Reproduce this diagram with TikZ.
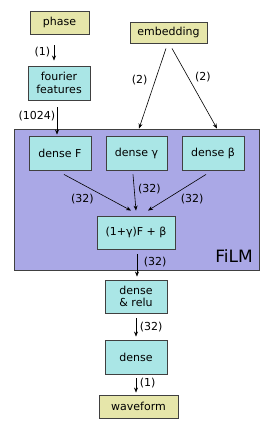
\documentclass[tikz,border=0pt]{standalone}
\usepackage{fontspec}
\setmainfont{DejaVu Sans}
\usetikzlibrary{arrows.meta,positioning}
\definecolor{sandyellow}{RGB}{230,230,170}
\definecolor{palecyan}{RGB}{170,230,230}
\definecolor{filmpurple}{RGB}{170,168,230}

\begin{document}
\begin{tikzpicture}[x=1pt,y=-1pt,
    font=\fontsize{11}{12.5}\selectfont,
    iobox/.style={draw=black!75, fill=sandyellow, line width=0.9pt, minimum height=23pt, inner sep=2pt},
    layer/.style={draw=black!75, fill=palecyan, line width=0.9pt, minimum width=62pt, minimum height=34pt, align=center, inner sep=2pt},
    arr/.style={-{Stealth[length=5pt,width=4pt]}, line width=0.6pt},
    dim/.style={inner sep=1.5pt}]
    \useasboundingbox (0,0) rectangle (275,430);

    % FiLM block
    \node[draw=black!75, fill=filmpurple, line width=0.9pt, minimum width=245pt, minimum height=141pt] (film) at (136.5,199.5) {};
    \node[anchor=base east, inner sep=0pt, font=\fontsize{17}{20}\selectfont] (filmlabel) at (253,262) {FiLM};

    % inputs
    \node[iobox, minimum width=59pt] (phase) at (59.5,22.5) {phase};
    \node[iobox, minimum width=77pt, minimum height=21pt] (embed) at (168.5,32.5) {embedding};
    \node[layer] (fourier) at (59,83) {fourier\\features};

    % dense layers
    \node[layer] (denseF) at (60,153) {dense F};
    \node[layer, minimum width=61pt] (denseG) at (136.5,153) {dense γ};
    \node[layer] (denseB) at (213,153) {dense β};
    \node[layer, minimum width=78pt, minimum height=33pt] (comb) at (136,232.5) {(1+γ)F + β};

    % output
    \node[layer, minimum height=33pt] (relu) at (136,296.5) {dense\\\& relu};
    \node[layer] (dense) at (136,357) {dense};
    \node[iobox, minimum width=79pt] (wave) at (138.5,406.5) {waveform};

    \draw[arr] ([xshift=-5.5pt,yshift=-11pt]phase.south) -- ([xshift=-5pt,yshift=5pt]fourier.north)
        node[pos=0.45, left, dim, xshift=-2pt] {(1)};
    \draw[arr] ([xshift=-2pt,yshift=-7pt]fourier.south) -- ([xshift=-3pt,yshift=1pt]denseF.north)
        node[pos=0.3, left, dim] {(1024)};
    \draw[arr] ([xshift=-2.5pt,yshift=-5pt]embed.south) -- ([xshift=2.5pt,yshift=7pt]denseG.north)
        node[pos=0.4, left, dim, xshift=-6pt] {(2)};
    \draw[arr] ([xshift=3.5pt,yshift=-5pt]embed.south) -- ([xshift=4pt,yshift=7pt]denseB.north)
        node[pos=0.36, right, dim, xshift=5pt] {(2)};

    \draw[arr] ([xshift=4pt,yshift=-4pt]denseF.south) -- ([xshift=-5pt,yshift=5pt]comb.north)
        node[pos=0.5, below left, dim, xshift=-2pt] {(32)};
    \draw[arr] ([xshift=-3.5pt,yshift=-4pt]denseG.south) -- ([yshift=5pt]comb.north)
        node[pos=0.4, right, dim, xshift=2pt] {(32)};
    \draw[arr] ([xshift=-7pt,yshift=-4pt]denseB.south) -- ([xshift=12pt,yshift=5pt]comb.north)
        node[pos=0.5, below right, dim, xshift=2pt] {(32)};

    \draw[arr] ([xshift=1pt,yshift=-5pt]comb.south) -- ([xshift=1pt,yshift=3pt]relu.north)
        node[pos=0.35, right, dim, xshift=5pt] {(32)};
    \draw[arr] ([yshift=-5pt]relu.south) -- ([yshift=3pt]dense.north)
        node[pos=0.5, right, dim, xshift=2pt] {(32)};
    \draw[arr] ([yshift=-4pt]dense.south) -- ([xshift=-2.5pt,yshift=2pt]wave.north)
        node[pos=0.3, right, dim, xshift=2pt] {(1)};
\end{tikzpicture}
\end{document}
